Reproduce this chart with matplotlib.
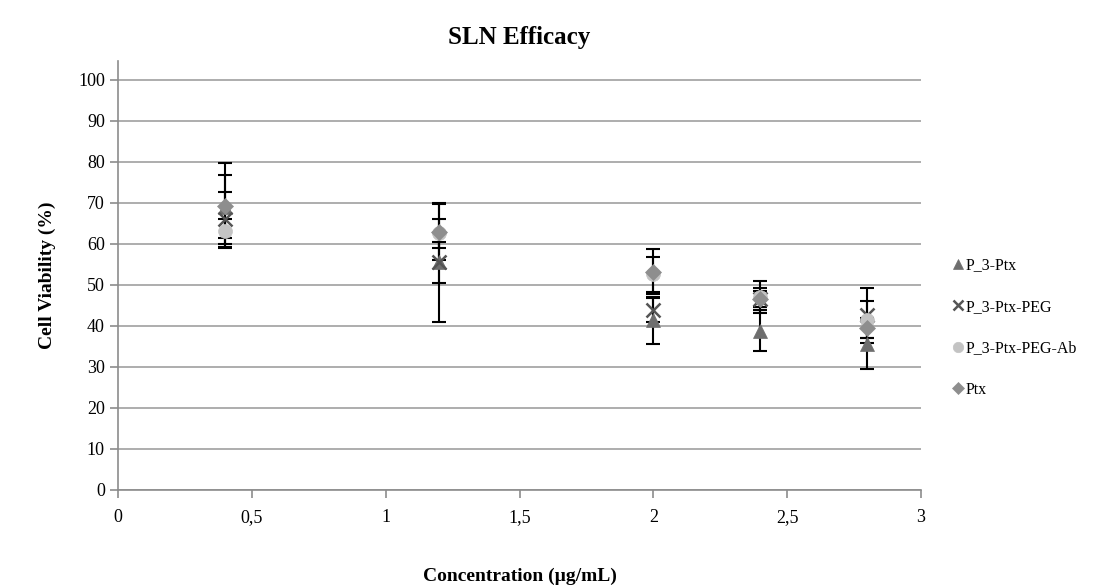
import matplotlib
matplotlib.use("Agg")
import matplotlib.pyplot as plt

# concentrations (µg/mL)
conc = [0.4, 1.2, 2.0, 2.4, 2.8]

# cell viability (%) and symmetric error
p3_ptx = [69.0, 55.5, 41.3, 38.8, 35.5]
p3_ptx_err = [7.7, 14.5, 5.7, 5.0, 6.0]

p3_ptx_peg = [66.0, 55.5, 43.8, 46.5, 42.5]
p3_ptx_peg_err = [6.7, 5.0, 3.0, 2.0, 6.7]

p3_ptx_peg_ab = [63.0, 62.5, 52.5, 47.0, 41.5]
p3_ptx_peg_ab_err = [3.0, 3.5, 4.2, 4.0, 4.5]

ptx = [69.3, 62.9, 53.2, 46.5, 39.4]
ptx_err = [10.4, 6.9, 5.5, 2.7, 2.5]

series_names = ["P_3-Ptx", "P_3-Ptx-PEG", "P_3-Ptx-PEG-Ab", "Ptx"]

x_ticks = [0, 0.5, 1, 1.5, 2, 2.5, 3]
x_tick_labels = ["0", "0,5", "1", "1,5", "2", "2,5", "3"]
y_ticks = [0, 10, 20, 30, 40, 50, 60, 70, 80, 90, 100]

plt.rcParams["font.family"] = ["Liberation Serif", "DejaVu Serif"]

STYLES = [
    {"marker": "^", "color": "#6e6e6e", "ms": 9.5},
    {"marker": "x", "color": "#555555", "ms": 9.5, "mew": 1.8},
    {"marker": "o", "color": "#c3c3c3", "ms": 10},
    {"marker": "D", "color": "#8e8e8e", "ms": 8.5},
]

fig = plt.figure(figsize=(10.98, 5.85), dpi=100)
ax = fig.add_axes([0.1075, 0.1632, 0.7313, 0.7325])

data = [
    (p3_ptx, p3_ptx_err),
    (p3_ptx_peg, p3_ptx_peg_err),
    (p3_ptx_peg_ab, p3_ptx_peg_ab_err),
    (ptx, ptx_err),
]

for name, (vals, errs), st in zip(series_names, data, STYLES):
    ax.errorbar(
        conc, vals, yerr=errs,
        fmt="none", ecolor="black", elinewidth=1.5, capsize=5, capthick=1.5,
        zorder=3,
    )
    ax.plot(
        conc, vals, linestyle="none",
        marker=st["marker"], color=st["color"], markersize=st["ms"],
        markeredgewidth=st.get("mew", 0.5), markeredgecolor=st["color"],
        label=name, zorder=4,
    )

ax.set_xlim(0, 3)
ax.set_ylim(0, 104.6)
ax.set_xticks(x_ticks)
ax.set_xticklabels(x_tick_labels)
ax.set_yticks(y_ticks)

ax.grid(axis="y", color="#a0a0a0", linewidth=1.2)
ax.set_axisbelow(True)
for side in ["top", "right"]:
    ax.spines[side].set_visible(False)
for side in ["left", "bottom"]:
    ax.spines[side].set_color("#8c8c8c")
    ax.spines[side].set_linewidth(1.2)

ax.tick_params(axis="both", colors="#8c8c8c", labelcolor="black",
               labelsize=13, length=6, width=1.2)
ax.tick_params(axis="x", pad=8)

ax.set_title("SLN Efficacy", fontsize=18, fontweight="bold", pad=12)
ax.set_xlabel("Concentration (µg/mL)", fontsize=14, fontweight="bold", labelpad=30)
ax.set_ylabel("Cell Viability (%)", fontsize=14, fontweight="bold", labelpad=16)

fig.legend(
    loc="center left", bbox_to_anchor=(0.855, 0.44), frameon=False,
    fontsize=11.5, labelspacing=1.6, handlelength=0.6, handletextpad=0.2,
    markerscale=0.75,
)

fig.savefig("out.png", dpi=100)
plt.close(fig)
